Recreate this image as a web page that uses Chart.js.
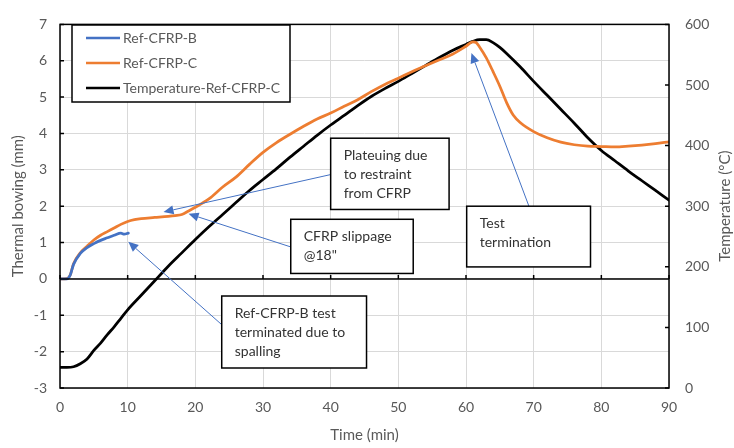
<!DOCTYPE html>
<html>
<head>
<meta charset="utf-8">
<script src="https://cdn.jsdelivr.net/npm/chart.js@4.4.1/dist/chart.umd.min.js"></script>
<style>
  html, body { margin: 0; padding: 0; background: #fff; }
  #wrap { width: 734px; height: 448px; }
</style>
</head>
<body>
<div id="wrap"><canvas id="chart" width="734" height="448"></canvas></div>
<script>
// time (min) / thermal bowing (mm) - Ref-CFRP-B
const timeB = [0, 1, 1.5, 2, 3, 4, 5, 6, 7, 8, 9, 9.5, 10.1];
const bowingB = [0, 0, 0.1, 0.4, 0.7, 0.86, 0.97, 1.06, 1.13, 1.2, 1.26, 1.23, 1.26];

// Ref-CFRP-C
const timeC = [0, 1, 1.5, 2, 3, 4, 5, 6, 7, 8, 9, 10, 11, 12, 14, 16, 17, 18, 19, 20, 22, 24, 26, 28, 30, 32, 34, 36, 38, 40, 42, 44, 46, 48, 50, 52, 54, 56, 58, 60, 61, 61.5, 62, 63, 64, 65, 66, 67, 68, 70, 72, 74, 76, 78, 80, 82, 84, 86, 88, 90];
const bowingC = [0, 0.01, 0.1, 0.42, 0.72, 0.9, 1.07, 1.2, 1.3, 1.4, 1.5, 1.58, 1.63, 1.66, 1.69, 1.72, 1.74, 1.77, 1.87, 1.97, 2.2, 2.52, 2.8, 3.15, 3.48, 3.75, 3.98, 4.2, 4.4, 4.56, 4.75, 4.93, 5.15, 5.35, 5.52, 5.7, 5.86, 6.02, 6.18, 6.4, 6.52, 6.5, 6.38, 6.08, 5.7, 5.3, 4.85, 4.5, 4.3, 4.05, 3.88, 3.76, 3.69, 3.65, 3.64, 3.63, 3.65, 3.68, 3.72, 3.77];

// Temperature-Ref-CFRP-C (°C)
const timeT = [0, 1, 2, 3, 4, 5, 6, 7, 8, 9, 10, 12, 14, 15, 16, 18, 20, 22, 24, 26, 28, 30, 32, 34, 36, 38, 40, 42, 44, 46, 48, 50, 52, 54, 56, 58, 60, 61, 62, 63, 64, 65, 66, 68, 70, 72, 74, 76, 78, 80, 82, 84, 86, 88, 90];
const tempT = [34, 34, 35, 40, 48, 62, 74, 88, 101, 115, 129, 153, 177, 189, 201, 223, 245, 266, 286, 306, 326, 344, 362, 381, 399, 417, 434, 450, 466, 481, 494, 506, 519, 532, 545, 557, 567, 572, 575, 575, 570, 562, 552, 530, 506, 483, 460, 437, 413, 392, 375, 358, 342, 326, 310];

const xTicks = [0, 10, 20, 30, 40, 50, 60, 70, 80, 90];
const yTicks = [-3, -2, -1, 0, 1, 2, 3, 4, 5, 6, 7];
const y1Ticks = [0, 100, 200, 300, 400, 500, 600];

// callouts, in data units (x: min, y: mm)
const notes = [
  { box: [40, 3.87, 57.5, 1.91], lines: ['Plateuing due', 'to restraint', 'from CFRP'], from: [40, 2.87], to: [15.3, 1.84] },
  { box: [34.1, 1.64, 52.2, 0.15], lines: ['CFRP slippage', '@18"'], from: [34.1, 0.88], to: [19.0, 1.79] },
  { box: [60.1, 2.0, 78.4, 0.33], lines: ['Test', 'termination'], from: [69.3, 2.0], to: [60.8, 6.21] },
  { box: [23.9, -0.47, 45.3, -2.45], lines: ['Ref-CFRP-B test', 'terminated due to', 'spalling'], from: [24.4, -1.34], to: [10.1, 1.02] }
];

const pts = (xs, ys) => xs.map((x, i) => ({ x: x, y: ys[i] }));

const FONT = 'Lato, "Open Sans", sans-serif';
const GREY = '#595959';

const extras = {
  id: 'extras',
  afterDatasetsDraw(chart) {
    const c = chart.ctx;
    const a = chart.chartArea;
    const sx = chart.scales.x, sy = chart.scales.y, sy1 = chart.scales.y1;
    c.save();
    // frame
    c.strokeStyle = '#000';
    c.lineWidth = 1.5;
    c.strokeRect(a.left, a.top, a.right - a.left, a.bottom - a.top);
    // zero line with ticks
    const y0 = sy.getPixelForValue(0);
    c.beginPath();
    c.moveTo(a.left, y0); c.lineTo(a.right, y0);
    xTicks.forEach(v => { const p = sx.getPixelForValue(v); c.moveTo(p, y0); c.lineTo(p, y0 - 4); });
    yTicks.forEach(v => { const p = sy.getPixelForValue(v); c.moveTo(a.left, p); c.lineTo(a.left + 4, p); });
    y1Ticks.forEach(v => { const p = sy1.getPixelForValue(v); c.moveTo(a.right, p); c.lineTo(a.right - 4, p); });
    c.stroke();

    // right axis title, reading upwards
    c.save();
    c.translate(725, (a.top + a.bottom) / 2);
    c.rotate(-Math.PI / 2);
    c.font = '15px ' + FONT;
    c.fillStyle = GREY;
    c.textAlign = 'center';
    c.textBaseline = 'middle';
    c.fillText('Temperature (°C)', 0, 0);
    c.restore();

    // callouts
    c.font = '14px ' + FONT;
    c.textBaseline = 'middle';
    notes.forEach(n => {
      const x0 = sx.getPixelForValue(n.box[0]), yt = sy.getPixelForValue(n.box[1]);
      const x1 = sx.getPixelForValue(n.box[2]), yb = sy.getPixelForValue(n.box[3]);
      const fx = sx.getPixelForValue(n.from[0]), fy = sy.getPixelForValue(n.from[1]);
      const tx = sx.getPixelForValue(n.to[0]), ty = sy.getPixelForValue(n.to[1]);
      // arrow
      const ang = Math.atan2(ty - fy, tx - fx);
      const hl = 10, hw = 4.5;
      const bx = tx - hl * Math.cos(ang), by = ty - hl * Math.sin(ang);
      c.strokeStyle = '#4472C4';
      c.fillStyle = '#4472C4';
      c.lineWidth = 1;
      c.beginPath(); c.moveTo(fx, fy); c.lineTo(bx, by); c.stroke();
      c.beginPath();
      c.moveTo(tx, ty);
      c.lineTo(bx + hw * Math.sin(ang), by - hw * Math.cos(ang));
      c.lineTo(bx - hw * Math.sin(ang), by + hw * Math.cos(ang));
      c.closePath(); c.fill();
      // box
      c.fillStyle = '#fff';
      c.fillRect(x0, yt, x1 - x0, yb - yt);
      c.strokeStyle = '#000';
      c.lineWidth = 1.5;
      c.strokeRect(x0, yt, x1 - x0, yb - yt);
      c.fillStyle = '#333';
      c.textAlign = 'left';
      n.lines.forEach((t, i) => c.fillText(t, x0 + 13, yt + 17.5 + i * 19));
    });

    // legend box
    const lx = 72, ly = 25, lw = 218, lh = 77;
    c.fillStyle = '#fff';
    c.fillRect(lx, ly, lw, lh);
    c.strokeStyle = '#000';
    c.lineWidth = 1.5;
    c.strokeRect(lx, ly, lw, lh);
    chart.data.datasets.forEach((ds, i) => {
      const yy = ly + 13 + i * 25;
      c.strokeStyle = ds.borderColor;
      c.lineWidth = 2.5;
      c.beginPath(); c.moveTo(lx + 14, yy); c.lineTo(lx + 48, yy); c.stroke();
      c.fillStyle = GREY;
      c.fillText(ds.label, lx + 51, yy);
    });
    c.restore();
  }
};

new Chart(document.getElementById('chart'), {
  type: 'line',
  data: {
    datasets: [
      { label: 'Ref-CFRP-B', data: pts(timeB, bowingB), borderColor: '#4472C4', borderWidth: 2.75, yAxisID: 'y', order: 1 },
      { label: 'Ref-CFRP-C', data: pts(timeC, bowingC), borderColor: '#ED7D31', borderWidth: 2.75, yAxisID: 'y', order: 2 },
      { label: 'Temperature-Ref-CFRP-C', data: pts(timeT, tempT), borderColor: '#000000', borderWidth: 2.75, yAxisID: 'y1', order: 3 }
    ]
  },
  options: {
    responsive: false,
    animation: false,
    elements: { point: { radius: 0 }, line: { cubicInterpolationMode: 'monotone', borderCapStyle: 'round', borderJoinStyle: 'round' } },
    layout: { padding: { top: 13 } },
    plugins: { legend: { display: false }, tooltip: { enabled: false } },
    scales: {
      x: {
        type: 'linear', min: 0, max: 90,
        afterFit: s => { s.height = 60; },
        afterBuildTicks: s => { s.ticks = xTicks.map(v => ({ value: v })); },
        ticks: { color: GREY, font: { family: FONT, size: 14 }, padding: 11, maxRotation: 0 },
        grid: { color: '#d9d9d9', drawTicks: false },
        border: { display: false },
        title: { display: true, text: 'Time (min)', color: GREY, font: { family: FONT, size: 15 }, padding: { top: 6 } }
      },
      y: {
        position: 'left', min: -3, max: 7,
        afterFit: s => { s.width = 60; },
        afterBuildTicks: s => { s.ticks = yTicks.map(v => ({ value: v })); },
        ticks: { color: GREY, font: { family: FONT, size: 14 }, padding: 13 },
        grid: { color: '#d9d9d9', drawTicks: false },
        border: { display: false },
        title: { display: true, text: 'Thermal bowing (mm)', color: GREY, font: { family: FONT, size: 15 }, padding: { top: 9, bottom: 0 } }
      },
      y1: {
        position: 'right', min: 0, max: 600,
        afterFit: s => { s.width = 65; },
        afterBuildTicks: s => { s.ticks = y1Ticks.map(v => ({ value: v })); },
        ticks: { color: GREY, font: { family: FONT, size: 14 }, padding: 16 },
        grid: { drawOnChartArea: false, drawTicks: false },
        border: { display: false },
        title: { display: false }
      }
    }
  },
  plugins: [extras]
});
</script>
</body>
</html>
